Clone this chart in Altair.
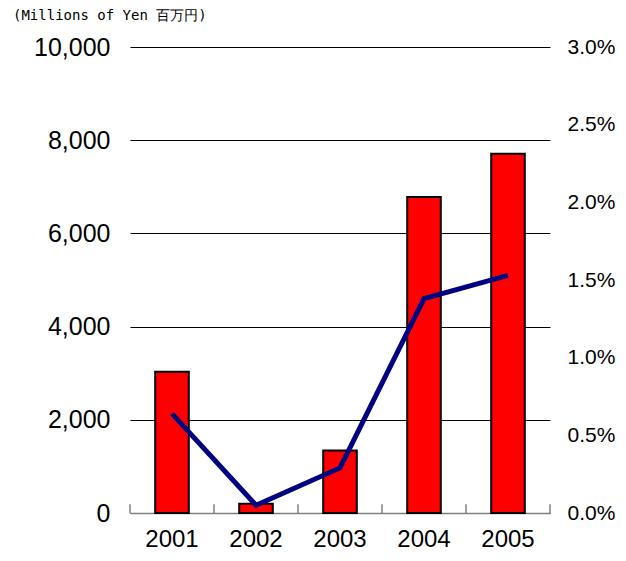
import altair as alt
import pandas as pd

years = ["2001", "2002", "2003", "2004", "2005"]
amounts = [3030, 200, 1340, 6780, 7710]          # Millions of Yen
ratios = [0.0064, 0.0005, 0.0029, 0.0138, 0.0153]  # right axis (%)
left_ticks = [0, 2000, 4000, 6000, 8000, 10000]
right_ticks = [0, 0.005, 0.01, 0.015, 0.02, 0.025, 0.03]

df = pd.DataFrame({"year": years, "amount": amounts, "ratio": ratios})
tick_df = pd.DataFrame({"year": years, "t0": [0] * 5, "t1": [190] * 5})
last_df = tick_df.tail(1)

FONT = "Liberation Sans"

xscale = alt.Scale(paddingInner=0, paddingOuter=0)
xaxis = alt.Axis(title=None, ticks=False, domainColor="#808080", domainWidth=1.5,
                 labelFontSize=24, labelFont=FONT, labelColor="black",
                 labelPadding=14, labelAngle=0)
yscale = alt.Scale(domain=[0, 10000], nice=False)

bars = alt.Chart(df).mark_bar(
    width=alt.RelativeBandSize(0.4), color="#FF0000", stroke="black", strokeWidth=2
).encode(
    x=alt.X("year:N", scale=xscale, axis=xaxis),
    y=alt.Y("amount:Q", scale=yscale,
            axis=alt.Axis(title=None, values=left_ticks, format=",d", grid=True,
                          gridColor="black", gridWidth=1, ticks=False, domain=False,
                          labelFontSize=25, labelFont=FONT, labelColor="black",
                          labelPadding=20)),
)

ticks = alt.Chart(tick_df).mark_rule(color="#808080", strokeWidth=1.5).encode(
    x=alt.X("year:N", bandPosition=0, scale=xscale, axis=xaxis),
    y=alt.Y("t0:Q", scale=yscale),
    y2="t1:Q",
)
ticks_end = alt.Chart(last_df).mark_rule(color="#808080", strokeWidth=1.5).encode(
    x=alt.X("year:N", bandPosition=1, scale=xscale, axis=xaxis),
    y=alt.Y("t0:Q", scale=yscale),
    y2="t1:Q",
)

line = alt.Chart(df).mark_line(color="#000080", strokeWidth=5).encode(
    x=alt.X("year:N", scale=xscale, axis=xaxis),
    y=alt.Y("ratio:Q", scale=alt.Scale(domain=[0, 0.03], nice=False),
            axis=alt.Axis(title=None, orient="right", values=right_ticks, format=".1%",
                          grid=False, ticks=False, domain=False,
                          labelFontSize=21, labelFont=FONT, labelColor="black",
                          labelPadding=17)),
)

chart = alt.layer(alt.layer(bars, ticks, ticks_end), line).resolve_scale(
    y="independent"
).properties(
    width=420,
    height=466,
    padding={"left": 122, "top": 39, "right": 68, "bottom": 40},
    autosize=alt.AutoSizeParams(type="none"),
    title=alt.TitleParams("(Millions of Yen 百万円)", anchor="start", frame="group",
                          dx=-117, fontSize=14, font="DejaVu Sans Mono",
                          fontWeight="normal", color="black", offset=12),
).configure_view(stroke=None)

chart.save("out.html", embed_options={"renderer": "svg", "actions": False})
